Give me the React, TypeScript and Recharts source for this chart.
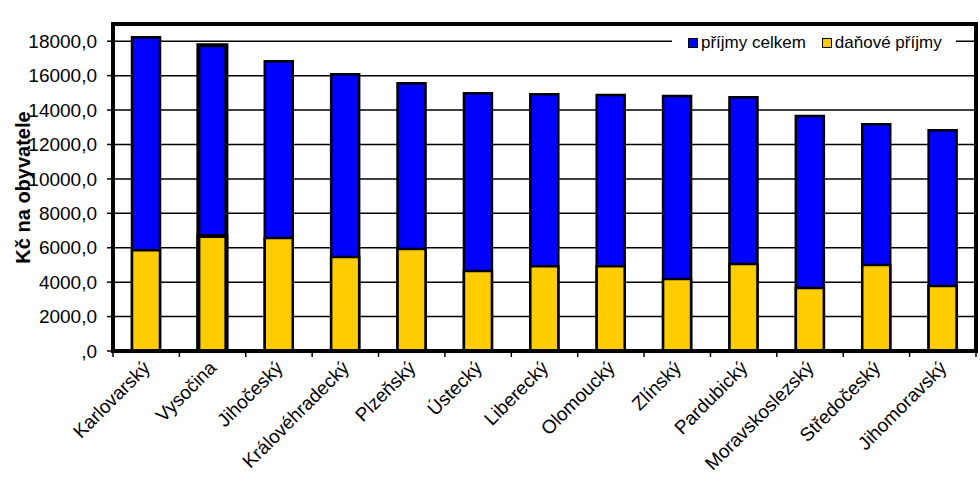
import {
  BarChart,
  Bar,
  XAxis,
  YAxis,
  CartesianGrid,
  Legend,
  ReferenceArea,
  Cell,
} from "recharts";

const regions = [
  "Karlovarský",
  "Vysočina",
  "Jihočeský",
  "Královéhradecký",
  "Plzeňský",
  "Ústecký",
  "Liberecký",
  "Olomoucký",
  "Zlínský",
  "Pardubický",
  "Moravskoslezský",
  "Středočeský",
  "Jihomoravský",
];
const prijmyCelkem = [18230, 17760, 16840, 16080, 15560, 14980, 14920, 14870, 14810, 14750, 13650, 13180, 12830];
const danovePrijmy = [5860, 6680, 6560, 5460, 5920, 4650, 4930, 4930, 4180, 5050, 3660, 5000, 3780];
const yTicks = [0, 2000, 4000, 6000, 8000, 10000, 12000, 14000, 16000, 18000];

const data = regions.map((region, i) => ({
  region,
  celkem: prijmyCelkem[i],
  danove: danovePrijmy[i],
}));

const FONT = "'Liberation Sans', Arial, sans-serif";
const BLUE = "#0000ff";
const YELLOW = "#ffcc00";

const fmt = (v: number) => (v === 0 ? ",0" : v.toFixed(1).replace(".", ","));

function XTick(props: any) {
  const { x, y, payload, index } = props;
  const off = payload.offset ?? 0;
  return (
    <g>
      <line x1={x - off} x2={x - off} y1={y - 6} y2={y} stroke="#000" strokeWidth={1.5} />
      {index === regions.length - 1 && (
        <line x1={x + off} x2={x + off} y1={y - 6} y2={y} stroke="#000" strokeWidth={1.5} />
      )}
      <text
        x={x + 5}
        y={y + 12}
        transform={`rotate(-45 ${x + 5} ${y + 12})`}
        textAnchor="end"
        fontSize={19}
        fontFamily={FONT}
        fill="#000"
      >
        {payload.value}
      </text>
    </g>
  );
}

function LegendBox() {
  const sq = (c: string) => (
    <span
      style={{
        display: "inline-block",
        width: 8,
        height: 8,
        background: c,
        border: "1.5px solid #000",
        marginRight: 3,
      }}
    />
  );
  return (
    <div
      style={{
        background: "#fff",
        fontFamily: FONT,
        fontSize: 17,
        color: "#000",
        padding: "2px 14px 2px 16px",
        whiteSpace: "nowrap",
        lineHeight: "20px",
      }}
    >
      {sq(BLUE)}
      <span style={{ marginRight: 16 }}>příjmy celkem</span>
      {sq(YELLOW)}
      <span>daňové příjmy</span>
    </div>
  );
}

export default function App() {
  return (
    <div style={{ position: "absolute", left: 0, top: 0, width: 980, height: 488, background: "#fff" }}>
      <BarChart
        width={980}
        height={488}
        data={data}
        margin={{ top: 24, right: 4, left: 0, bottom: 0 }}
      >
        <CartesianGrid vertical={false} stroke="#000" strokeWidth={1.5} />
        <XAxis
          dataKey="region"
          interval={0}
          height={137}
          tickLine={false}
          tickSize={6}
          tickMargin={0}
          tick={<XTick />}
          axisLine={{ stroke: "#000", strokeWidth: 4 }}
        />
        <XAxis dataKey="region" xAxisId="b" hide />
        <YAxis
          width={113}
          domain={[0, 19000]}
          ticks={yTicks}
          tickFormatter={fmt}
          allowDataOverflow
          tick={{ fill: "#000", fontSize: 19, fontFamily: FONT }}
          tickLine={{ stroke: "#000", strokeWidth: 1.5 }}
          tickSize={6}
          tickMargin={10}
          axisLine={{ stroke: "#000", strokeWidth: 4 }}
          label={{
            value: "Kč na obyvatele",
            angle: -90,
            position: "insideLeft",
            offset: 23,
            style: { textAnchor: "middle", fontWeight: "bold", fontSize: 20, fontFamily: FONT, fill: "#000" },
          }}
        />
        <Legend
          layout="horizontal"
          verticalAlign="middle"
          align="center"
          content={<LegendBox />}
          wrapperStyle={{ position: "absolute", top: 31, left: 672, width: "auto" }}
        />
        <Bar dataKey="celkem" name="příjmy celkem" fill={BLUE} stroke="#000" strokeWidth={2.5} barSize={28} isAnimationActive={false}>
          {data.map((_, i) => (
            <Cell key={i} strokeWidth={i === 1 ? 4 : 2.5} />
          ))}
        </Bar>
        <Bar
          dataKey="danove"
          name="daňové příjmy"
          xAxisId="b"
          fill={YELLOW}
          stroke="#000"
          strokeWidth={2.5}
          barSize={28}
          isAnimationActive={false}
        >
          {data.map((_, i) => (
            <Cell key={i} strokeWidth={i === 1 ? 4 : 2.5} />
          ))}
        </Bar>
        <ReferenceArea y1={0} y2={19000} fill="none" stroke="#000" strokeWidth={4} ifOverflow="visible" />
      </BarChart>
    </div>
  );
}
